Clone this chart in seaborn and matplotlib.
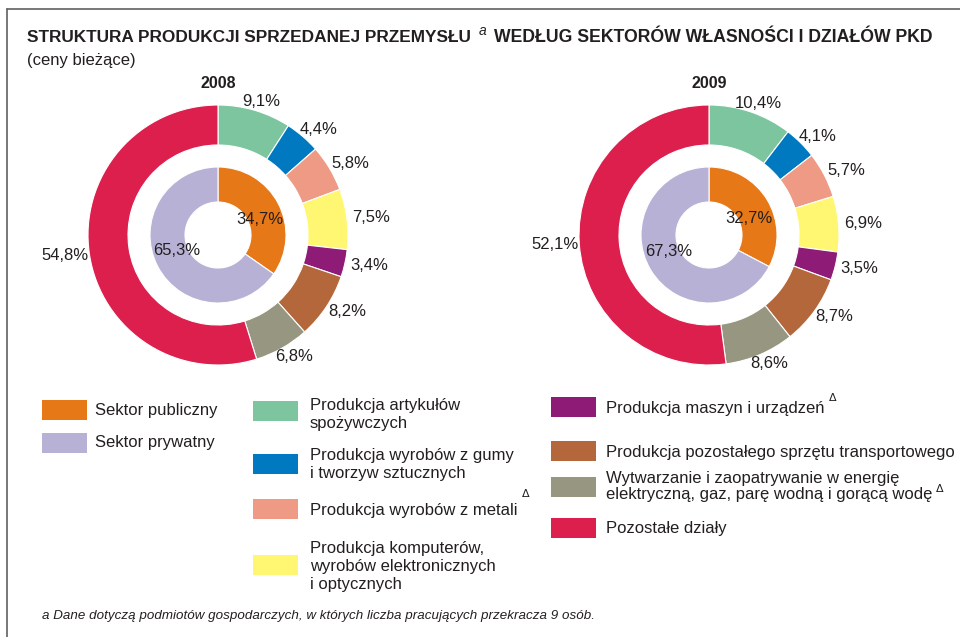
import numpy as np
import matplotlib
matplotlib.use("Agg")
import matplotlib.pyplot as plt
from matplotlib.patches import Rectangle
from matplotlib.lines import Line2D
import seaborn as sns

sns.set_theme(style="white")
plt.rcParams['font.family'] = ['Liberation Sans', 'DejaVu Sans']

# ---------------- data ----------------
years = ["2008", "2009"]
sector_labels = ["Sektor publiczny", "Sektor prywatny"]
sector_2008 = [34.7, 65.3]
sector_2009 = [32.7, 67.3]
branch_labels = [
    "Produkcja artykułów\nspożywczych",
    "Produkcja wyrobów z gumy\ni tworzyw sztucznych",
    "Produkcja wyrobów z metali",
    "Produkcja komputerów,\nwyrobów elektronicznych\ni optycznych",
    "Produkcja maszyn i urządzeń",
    "Produkcja pozostałego sprzętu transportowego",
    "Wytwarzanie i zaopatrywanie w energię\nelektryczną, gaz, parę wodną i gorącą wodę",
    "Pozostałe działy",
]
branch_2008 = [9.1, 4.4, 5.8, 7.5, 3.4, 8.2, 6.8, 54.8]
branch_2009 = [10.4, 4.1, 5.7, 6.9, 3.5, 8.7, 8.6, 52.1]
branch_delta = [False, False, True, False, True, False, True, False]

sector_colors = ["#E67817", "#B8B1D6"]
branch_colors = sns.color_palette(["#7DC59F", "#0079C1", "#EE9A85", "#FFF772",
                                   "#8E1B76", "#B5673C", "#979680", "#DD1F4E"])

W, H = 960, 637
fig = plt.figure(figsize=(W / 100, H / 100), dpi=100)

# background canvas in pixel coordinates
bg = fig.add_axes([0, 0, 1, 1])
bg.set_xlim(0, W)
bg.set_ylim(H, 0)
bg.axis("off")

TXT = "#231F20"

def fmt(v):
    return f"{v:.1f}".replace(".", ",") + "%"

R = 130.0
def donut(cx, cy, year, sectors, branches):
    half = 1.5 * R
    ax = fig.add_axes([(cx - half) / W, (H - cy - half) / H, 2 * half / W, 2 * half / H])
    wo, _ = ax.pie(branches, radius=1.0, startangle=90, counterclock=False,
                   colors=branch_colors,
                   wedgeprops=dict(width=40 / R, edgecolor="white", linewidth=0.8))
    r_in = 68 / R
    wi, _ = ax.pie(sectors, radius=r_in, startangle=90, counterclock=False,
                   colors=sector_colors,
                   wedgeprops=dict(width=35 / R, edgecolor="white", linewidth=0.8))
    ax.set_xlim(-1.5, 1.5)
    ax.set_ylim(-1.5, 1.5)
    ax.axis("off")
    for w, v in zip(wo, branches):
        a = np.deg2rad((w.theta1 + w.theta2) / 2)
        ax.text(1.19 * np.cos(a), 1.07 * np.sin(a), fmt(v), ha="center", va="center",
                fontsize=12, color=TXT)
    for w, v in zip(wi, sectors):
        a = np.deg2rad((w.theta1 + w.theta2) / 2)
        ax.text(0.36 * np.cos(a), 0.25 * np.sin(a), fmt(v), ha="center", va="center",
                fontsize=12, color=TXT)
    bg.text(cx, 83, year, ha="center", va="center", fontsize=11.5, fontweight="bold", color=TXT)

donut(218, 235, years[0], sector_2008, branch_2008)
donut(709, 235, years[1], sector_2009, branch_2009)

# frame
bg.add_line(Line2D([7, 7], [9, H], color="#606060", lw=1.2))
bg.add_line(Line2D([7, W], [9, 9], color="#606060", lw=1.2))

# title
fig.canvas.draw()
rend = fig.canvas.get_renderer()
t1 = bg.text(27, 38, "STRUKTURA PRODUKCJI SPRZEDANEJ PRZEMYSŁU", fontsize=12.4, fontweight="bold",
             va="center", ha="left", color=TXT)
bb = t1.get_window_extent(renderer=rend)
ta = bg.text(bb.x1 + 8, 31, "a", fontsize=10, fontstyle="italic", va="center", ha="left", color=TXT)
bba = ta.get_window_extent(renderer=rend)
bg.text(bba.x1 + 7, 38, "WEDŁUG SEKTORÓW WŁASNOŚCI I DZIAŁÓW PKD", fontsize=12.7, fontweight="bold",
        va="center", ha="left", color=TXT)
bg.text(27, 60, "(ceny bieżące)", fontsize=12, va="center", ha="left", color=TXT)

# legend
def legend_item(px, py, tx, ty, color, label, delta=False, ls=1.25, dy=None):
    bg.add_patch(Rectangle((px, py - 10), 45, 20, facecolor=color, edgecolor="none"))
    t = bg.text(tx, ty, label, fontsize=12, va="center", ha="left", color=TXT, linespacing=ls)
    if delta:
        bbt = t.get_window_extent(renderer=rend)
        bg.text(bbt.x1 + 4, dy, "Δ", fontsize=8, va="center", ha="left",
                color=TXT, family=["DejaVu Sans"])

legend_item(42, 410, 95, 410, sector_colors[0], sector_labels[0])
legend_item(42, 443, 95, 443, sector_colors[1], sector_labels[1])

col2_patch = [411, 464, 509, 565]
col2_text = [414.5, 464.5, 510, 567]
for i in range(4):
    legend_item(253, col2_patch[i], 310, col2_text[i], branch_colors[i], branch_labels[i],
                delta=branch_delta[i], dy=col2_text[i] - 16)

col3_patch = [407, 451, 487, 528]
col3_text = [409, 452, 486.5, 529]
col3_ls = [1.25, 1.25, 1.05, 1.25]
col3_dy = [398, 0, 489, 0]
for j in range(4):
    i = j + 4
    legend_item(551, col3_patch[j], 606, col3_text[j], branch_colors[i], branch_labels[i],
                delta=branch_delta[i], ls=col3_ls[j], dy=col3_dy[j])

# footnote
bg.text(42, 616, "a Dane dotyczą podmiotów gospodarczych, w których liczba pracujących przekracza 9 osób.",
        fontsize=9.6, fontstyle="italic", va="center", ha="left", color=TXT)

fig.savefig("out.png", dpi=100, facecolor="white")
